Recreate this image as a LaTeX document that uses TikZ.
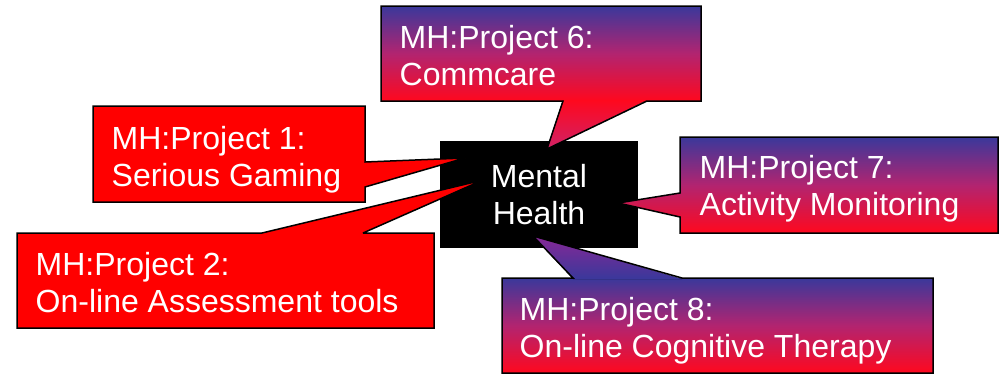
\documentclass[tikz,border=0pt]{standalone}
\usepackage{fontspec}
\setmainfont{Liberation Sans}
\usetikzlibrary{calc}
\definecolor{cblue}{RGB}{58,56,155}
\definecolor{cred}{RGB}{255,8,30}
\definecolor{cmid}{RGB}{178,36,112}
\definecolor{ctipsix}{RGB}{208,34,102}
\definecolor{ctipeight}{RGB}{135,40,150}
\definecolor{pred}{RGB}{255,0,0}
\begin{document}
\begin{tikzpicture}[x=1pt,y=-1pt,
  outl/.style={draw=black, line width=1.5pt, line join=miter, miter limit=4},
  grad/.style={top color=cblue, bottom color=cred, middle color=cmid},
  ptext/.style={text=white, font=\fontsize{32}{37}\selectfont, align=left, inner sep=0pt, anchor=north west},
  boxnode/.style={rectangle, inner sep=0pt, outer sep=0pt, anchor=north west}]
\useasboundingbox (0,0) rectangle (1000,375);
\fill[white] (0,0) rectangle (1000,375);
% centre box
\node[rectangle, fill=black, inner sep=0pt, minimum width=198pt, minimum height=107pt] (mh) at (539,194.5) {};
% Project 1
\node[boxnode, minimum width=272pt, minimum height=96pt] (p1) at (93,106) {};
\coordinate (b1a) at (365,162);
\coordinate (b1b) at (365,187);
\coordinate (t1) at (465,158);
\draw[outl, fill=pred] (p1.north west) -- (p1.north east) -- (b1a) -- (t1) -- (b1b) -- (p1.south east) -- (p1.south west) -- cycle;
\node[ptext] (p1t) at (111.5,126.1) {MH:Project 1:\\Serious Gaming};
% Project 2
\node[boxnode, minimum width=417pt, minimum height=95pt] (p2) at (17,233) {};
\coordinate (b2a) at (262,233);
\coordinate (b2b) at (363,233);
\coordinate (t2) at (483,180);
\draw[outl, fill=pred] (p2.north west) -- (b2a) -- (t2) -- (b2b) -- (p2.north east) -- (p2.south east) -- (p2.south west) -- cycle;
\node[ptext] (p2t) at (35.5,252.1) {MH:Project 2:\\On-line Assessment tools};
% Project 6
\node[boxnode, grad, minimum width=320pt, minimum height=95pt] (p6) at (381,6) {};
\coordinate (b6a) at (563,101);
\coordinate (b6b) at (647,101);
\coordinate (t6) at (547,149);
\fill[top color=cred, bottom color=ctipsix] ($(b6a)+(0,-1)$) -- (t6) -- ($(b6b)+(0,-1)$) -- cycle;
\draw[outl] (p6.north west) -- (p6.north east) -- (p6.south east) -- (b6b) -- (t6) -- (b6a) -- (p6.south west) -- cycle;
\node[ptext] (p6t) at (399.5,25.1) {MH:Project 6:\\Commcare};
% Project 7
\node[boxnode, minimum width=318pt, minimum height=96pt] (p7) at (680,137) {};
\coordinate (b7a) at (680,193);
\coordinate (b7b) at (680,217);
\coordinate (t7) at (618,203);
\draw[outl, grad] (p7.north west) -- (p7.north east) -- (p7.south east) -- (p7.south west) -- (b7b) -- (t7) -- (b7a) -- cycle;
\node[ptext] (p7t) at (699.5,155.1) {MH:Project 7:\\Activity Monitoring};
% Project 8
\node[boxnode, grad, minimum width=431pt, minimum height=95pt] (p8) at (502,278) {};
\coordinate (b8a) at (573,278);
\coordinate (b8b) at (682,278);
\coordinate (t8) at (533,236);
\fill[top color=ctipeight, bottom color=cblue] ($(b8a)+(0,1)$) -- (t8) -- ($(b8b)+(0,1)$) -- cycle;
\draw[outl] (p8.north west) -- (b8a) -- (t8) -- (b8b) -- (p8.north east) -- (p8.south east) -- (p8.south west) -- cycle;
\node[ptext] (p8t) at (519.5,297.1) {MH:Project 8:\\On-line Cognitive Therapy};
% centre text
\node[text=white, font=\fontsize{32}{37}\selectfont, align=center, inner sep=0pt] (mht) at (539,195) {Mental\\Health};
\end{tikzpicture}
\end{document}
